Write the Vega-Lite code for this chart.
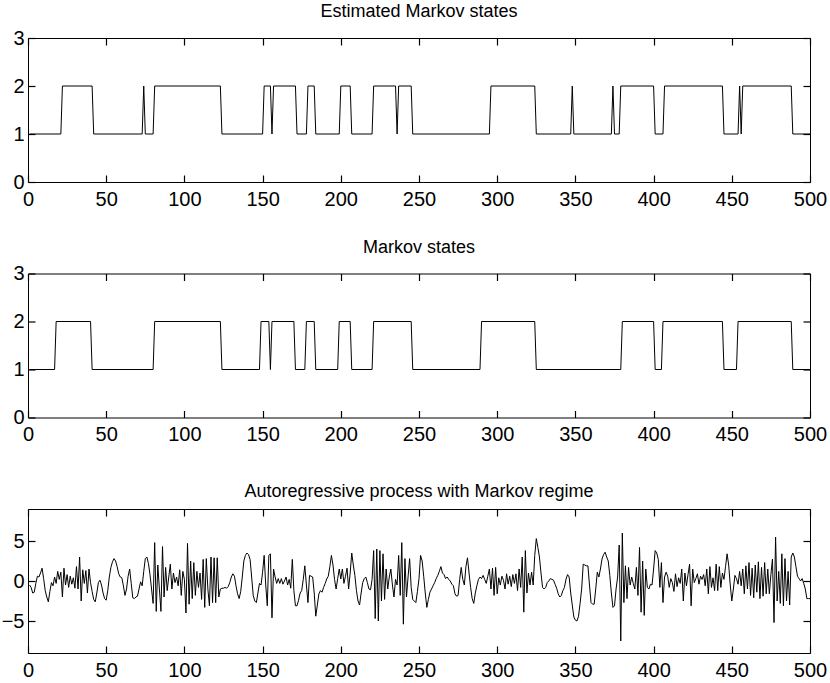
{
"$schema": "https://vega.github.io/schema/vega-lite/v6.json",
"padding": {"left": 0, "top": 2, "right": 1, "bottom": 2},
"background": "white",
"spacing": 91.5,
"bounds": "flush",
"config": {
  "view": {"stroke": "black", "strokeWidth": 1},
  "axis": {"domain": false, "offset": -7, "ticks": true, "tickColor": "black", "tickWidth": 1, "tickSize": 7, "labelColor": "black", "labelFont": "Liberation Sans", "labelFontSize": 20, "grid": false, "labelFlush": false, "labelOverlap": false},
  "axisX": {"labelPadding": 7, "ticks": true, "tickColor": "black", "tickWidth": 1.2, "tickSize": 7},
  "axisY": {"labelPadding": 4, "ticks": true, "tickColor": "black", "tickWidth": 1.2, "tickSize": 7},
  "title": {"font": "Liberation Sans", "fontSize": 18, "fontWeight": "normal", "color": "black", "offset": 7},
  "line": {"color": "black", "strokeWidth": 1}
},
"datasets": {
"est": [{"t":1,"s":1},{"t":21,"s":1},{"t":22,"s":2},{"t":41,"s":2},{"t":42,"s":1},{"t":73,"s":1},{"t":74,"s":2},{"t":75,"s":1},{"t":80,"s":1},{"t":81,"s":2},{"t":123,"s":2},{"t":124,"s":1},{"t":150,"s":1},{"t":151,"s":2},{"t":155,"s":2},{"t":156,"s":1},{"t":157,"s":2},{"t":171,"s":2},{"t":172,"s":1},{"t":178,"s":1},{"t":179,"s":2},{"t":183,"s":2},{"t":184,"s":1},{"t":199,"s":1},{"t":200,"s":2},{"t":206,"s":2},{"t":207,"s":1},{"t":220,"s":1},{"t":221,"s":2},{"t":235,"s":2},{"t":236,"s":1},{"t":237,"s":2},{"t":245,"s":2},{"t":246,"s":1},{"t":295,"s":1},{"t":296,"s":2},{"t":324,"s":2},{"t":325,"s":1},{"t":347,"s":1},{"t":348,"s":2},{"t":349,"s":1},{"t":373,"s":1},{"t":374,"s":2},{"t":375,"s":1},{"t":378,"s":1},{"t":379,"s":2},{"t":400,"s":2},{"t":401,"s":1},{"t":406,"s":1},{"t":407,"s":2},{"t":444,"s":2},{"t":445,"s":1},{"t":454,"s":1},{"t":455,"s":2},{"t":456,"s":1},{"t":457,"s":2},{"t":488,"s":2},{"t":489,"s":1},{"t":500,"s":1}],
"tru": [{"t":1,"s":1},{"t":17,"s":1},{"t":18,"s":2},{"t":40,"s":2},{"t":41,"s":1},{"t":80,"s":1},{"t":81,"s":2},{"t":123,"s":2},{"t":124,"s":1},{"t":148,"s":1},{"t":149,"s":2},{"t":154,"s":2},{"t":155,"s":1},{"t":156,"s":2},{"t":170,"s":2},{"t":171,"s":1},{"t":177,"s":1},{"t":178,"s":2},{"t":183,"s":2},{"t":184,"s":1},{"t":198,"s":1},{"t":199,"s":2},{"t":206,"s":2},{"t":207,"s":1},{"t":220,"s":1},{"t":221,"s":2},{"t":245,"s":2},{"t":246,"s":1},{"t":289,"s":1},{"t":290,"s":2},{"t":324,"s":2},{"t":325,"s":1},{"t":379,"s":1},{"t":380,"s":2},{"t":400,"s":2},{"t":401,"s":1},{"t":405,"s":1},{"t":406,"s":2},{"t":444,"s":2},{"t":445,"s":1},{"t":453,"s":1},{"t":454,"s":2},{"t":488,"s":2},{"t":489,"s":1},{"t":500,"s":1}],
"ar": [
{"t":1,"v":-0.5},{"t":2,"v":-0.8},{"t":3,"v":-1.5},{"t":4,"v":-1.4},{"t":5,"v":-0.3},{"t":6,"v":0.6},{"t":7,"v":0.5},{"t":8,"v":1.0},{"t":9,"v":1.6},{"t":10,"v":0.3},
{"t":11,"v":-1.2},{"t":12,"v":-2.0},{"t":13,"v":-2.6},{"t":14,"v":-1.3},{"t":15,"v":-0.2},{"t":16,"v":-0.6},{"t":17,"v":0.5},{"t":18,"v":-0.3},{"t":19,"v":1.2},{"t":20,"v":0.2},
{"t":21,"v":1.1},{"t":22,"v":-2.0},{"t":23,"v":1.6},{"t":24,"v":-0.5},{"t":25,"v":0.8},{"t":26,"v":-0.8},{"t":27,"v":0.6},{"t":28,"v":-0.4},{"t":29,"v":0.4},{"t":30,"v":-0.9},
{"t":31,"v":1.8},{"t":32,"v":-1.0},{"t":33,"v":3.0},{"t":34,"v":-2.5},{"t":35,"v":1.4},{"t":36,"v":-0.3},{"t":37,"v":1.3},{"t":38,"v":-1.5},{"t":39,"v":1.5},{"t":40,"v":-0.2},
{"t":41,"v":-1.3},{"t":42,"v":-2.3},{"t":43,"v":-2.6},{"t":44,"v":-1.5},{"t":45,"v":-0.2},{"t":46,"v":0.1},{"t":47,"v":-0.5},{"t":48,"v":-1.5},{"t":49,"v":-2.2},{"t":50,"v":-2.4},
{"t":51,"v":-1.2},{"t":52,"v":0.5},{"t":53,"v":1.7},{"t":54,"v":2.4},{"t":55,"v":2.8},{"t":56,"v":2.5},{"t":57,"v":1.8},{"t":58,"v":0.9},{"t":59,"v":0.5},{"t":60,"v":0.4},
{"t":61,"v":-0.6},{"t":62,"v":-1.8},{"t":63,"v":-1.0},{"t":64,"v":0.6},{"t":65,"v":1.5},{"t":66,"v":-0.3},{"t":67,"v":-2.1},{"t":68,"v":-2.2},{"t":69,"v":-2.0},{"t":70,"v":-1.9},
{"t":71,"v":-1.0},{"t":72,"v":-0.1},{"t":73,"v":-0.6},{"t":74,"v":1.2},{"t":75,"v":2.8},{"t":76,"v":3.0},{"t":77,"v":2.2},{"t":78,"v":0.8},{"t":79,"v":-1.0},{"t":80,"v":-2.8},
{"t":81,"v":4.8},{"t":82,"v":-3.8},{"t":83,"v":2.0},{"t":84,"v":-1.0},{"t":85,"v":-3.8},{"t":86,"v":4.3},{"t":87,"v":-2.0},{"t":88,"v":1.7},{"t":89,"v":-1.2},{"t":90,"v":0.5},
{"t":91,"v":2.1},{"t":92,"v":-1.0},{"t":93,"v":1.0},{"t":94,"v":-0.2},{"t":95,"v":0.5},{"t":96,"v":-0.6},{"t":97,"v":1.4},{"t":98,"v":-1.8},{"t":99,"v":1.2},{"t":100,"v":0.2},
{"t":101,"v":-4.0},{"t":102,"v":4.7},{"t":103,"v":-2.9},{"t":104,"v":2.5},{"t":105,"v":-2.2},{"t":106,"v":2.3},{"t":107,"v":-1.8},{"t":108,"v":1.2},{"t":109,"v":-0.8},{"t":110,"v":1.0},
{"t":111,"v":-2.3},{"t":112,"v":2.7},{"t":113,"v":-3.3},{"t":114,"v":2.8},{"t":115,"v":-1.0},{"t":116,"v":-3.1},{"t":117,"v":3.0},{"t":118,"v":-2.7},{"t":119,"v":2.9},{"t":120,"v":-2.7},
{"t":121,"v":2.9},{"t":122,"v":-2.0},{"t":123,"v":-1.0},{"t":124,"v":-0.9},{"t":125,"v":-0.9},{"t":126,"v":-0.8},{"t":127,"v":-0.9},{"t":128,"v":-0.7},{"t":129,"v":-0.2},{"t":130,"v":0.5},
{"t":131,"v":0.9},{"t":132,"v":0.6},{"t":133,"v":-0.6},{"t":134,"v":-1.6},{"t":135,"v":-2.2},{"t":136,"v":-1.3},{"t":137,"v":0.5},{"t":138,"v":2.5},{"t":139,"v":3.2},{"t":140,"v":3.5},
{"t":141,"v":3.3},{"t":142,"v":2.7},{"t":143,"v":0.5},{"t":144,"v":-1.8},{"t":145,"v":-2.5},{"t":146,"v":-2.7},{"t":147,"v":-1.5},{"t":148,"v":-0.3},{"t":149,"v":-0.5},{"t":150,"v":1.1},
{"t":151,"v":3.2},{"t":152,"v":-0.5},{"t":153,"v":-3.1},{"t":154,"v":3.2},{"t":155,"v":3.4},{"t":156,"v":-4.6},{"t":157,"v":1.5},{"t":158,"v":0.5},{"t":159,"v":-0.3},{"t":160,"v":0.3},
{"t":161,"v":-0.3},{"t":162,"v":0.3},{"t":163,"v":-0.4},{"t":164,"v":0.0},{"t":165,"v":0.5},{"t":166,"v":-0.5},{"t":167,"v":0.2},{"t":168,"v":-0.9},{"t":169,"v":2.7},{"t":170,"v":-1.2},
{"t":171,"v":-3.1},{"t":172,"v":-3.1},{"t":173,"v":-2.4},{"t":174,"v":-1.5},{"t":175,"v":-1.2},{"t":176,"v":0.2},{"t":177,"v":1.9},{"t":178,"v":-0.5},{"t":179,"v":-2.7},{"t":180,"v":0.7},
{"t":181,"v":0.6},{"t":182,"v":0.5},{"t":183,"v":-1.5},{"t":184,"v":-4.4},{"t":185,"v":-3.0},{"t":186,"v":-1.6},{"t":187,"v":-1.2},{"t":188,"v":-1.4},{"t":189,"v":-0.8},{"t":190,"v":-0.3},
{"t":191,"v":0.25},{"t":192,"v":0.6},{"t":193,"v":1.8},{"t":194,"v":3.2},{"t":195,"v":2.0},{"t":196,"v":0.2},{"t":197,"v":-1.0},{"t":198,"v":0.3},{"t":199,"v":1.5},{"t":200,"v":0.25},
{"t":201,"v":1.5},{"t":202,"v":-0.3},{"t":203,"v":0.6},{"t":204,"v":1.6},{"t":205,"v":-1.0},{"t":206,"v":1.0},{"t":207,"v":3.5},{"t":208,"v":2.0},{"t":209,"v":0.7},{"t":210,"v":-1.2},
{"t":211,"v":-2.5},{"t":212,"v":-3.0},{"t":213,"v":-1.5},{"t":214,"v":-0.2},{"t":215,"v":0.3},{"t":216,"v":0.5},{"t":217,"v":-0.2},{"t":218,"v":-1.0},{"t":219,"v":-1.1},{"t":220,"v":0.2},
{"t":221,"v":3.8},{"t":222,"v":-4.7},{"t":223,"v":4.0},{"t":224,"v":-5.0},{"t":225,"v":3.8},{"t":226,"v":-2.5},{"t":227,"v":3.4},{"t":228,"v":-2.3},{"t":229,"v":1.5},{"t":230,"v":-1.0},
{"t":231,"v":0.5},{"t":232,"v":1.5},{"t":233,"v":-0.5},{"t":234,"v":-2.0},{"t":235,"v":0.2},{"t":236,"v":-0.5},{"t":237,"v":3.2},{"t":238,"v":-1.8},{"t":239,"v":4.8},{"t":240,"v":-5.4},
{"t":241,"v":2.8},{"t":242,"v":-2.0},{"t":243,"v":0.5},{"t":244,"v":2.8},{"t":245,"v":-0.8},{"t":246,"v":-2.3},{"t":247,"v":-2.5},{"t":248,"v":-2.7},{"t":249,"v":-1.3},{"t":250,"v":0.3},
{"t":251,"v":3.2},{"t":252,"v":2.5},{"t":253,"v":0.6},{"t":254,"v":-1.5},{"t":255,"v":-3.3},{"t":256,"v":-2.3},{"t":257,"v":-1.4},{"t":258,"v":-1.0},{"t":259,"v":-0.6},{"t":260,"v":-0.2},
{"t":261,"v":0.3},{"t":262,"v":0.7},{"t":263,"v":1.2},{"t":264,"v":1.8},{"t":265,"v":1.0},{"t":266,"v":0.8},{"t":267,"v":0.3},{"t":268,"v":0.5},{"t":269,"v":0.2},{"t":270,"v":0.0},
{"t":271,"v":-0.4},{"t":272,"v":-0.6},{"t":273,"v":-1.6},{"t":274,"v":-1.9},{"t":275,"v":-1.8},{"t":276,"v":0.2},{"t":277,"v":1.7},{"t":278,"v":0.2},{"t":279,"v":-0.5},{"t":280,"v":1.8},
{"t":281,"v":2.9},{"t":282,"v":1.0},{"t":283,"v":-0.8},{"t":284,"v":-2.2},{"t":285,"v":-2.8},{"t":286,"v":-1.5},{"t":287,"v":-0.6},{"t":288,"v":0.2},{"t":289,"v":0.5},{"t":290,"v":0.3},
{"t":291,"v":0.7},{"t":292,"v":0.2},{"t":293,"v":-0.3},{"t":294,"v":0.6},{"t":295,"v":1.5},{"t":296,"v":-1.0},{"t":297,"v":1.6},{"t":298,"v":-1.8},{"t":299,"v":1.7},{"t":300,"v":-1.6},
{"t":301,"v":0.4},{"t":302,"v":-0.5},{"t":303,"v":0.6},{"t":304,"v":0.1},{"t":305,"v":-1.0},{"t":306,"v":0.9},{"t":307,"v":-0.4},{"t":308,"v":0.6},{"t":309,"v":-0.7},{"t":310,"v":0.8},
{"t":311,"v":-0.3},{"t":312,"v":0.9},{"t":313,"v":-1.2},{"t":314,"v":1.5},{"t":315,"v":-0.8},{"t":316,"v":3.0},{"t":317,"v":-3.9},{"t":318,"v":3.8},{"t":319,"v":-1.5},{"t":320,"v":1.0},
{"t":321,"v":-0.5},{"t":322,"v":1.1},{"t":323,"v":-0.5},{"t":324,"v":3.2},{"t":325,"v":5.3},{"t":326,"v":4.2},{"t":327,"v":3.0},{"t":328,"v":1.0},{"t":329,"v":-0.8},{"t":330,"v":-1.0},
{"t":331,"v":-0.8},{"t":332,"v":-0.2},{"t":333,"v":0.0},{"t":334,"v":0.3},{"t":335,"v":0.2},{"t":336,"v":0.1},{"t":337,"v":-0.4},{"t":338,"v":-0.9},{"t":339,"v":-1.6},{"t":340,"v":-2.0},
{"t":341,"v":-1.8},{"t":342,"v":-1.2},{"t":343,"v":-0.8},{"t":344,"v":0.25},{"t":345,"v":0.8},{"t":346,"v":0.5},{"t":347,"v":-1.5},{"t":348,"v":-3.0},{"t":349,"v":-4.5},{"t":350,"v":-4.9},
{"t":351,"v":-5.0},{"t":352,"v":-4.4},{"t":353,"v":-2.8},{"t":354,"v":-1.0},{"t":355,"v":2.1},{"t":356,"v":2.0},{"t":357,"v":1.9},{"t":358,"v":1.9},{"t":359,"v":-0.5},{"t":360,"v":-2.7},
{"t":361,"v":-2.9},{"t":362,"v":-2.9},{"t":363,"v":-1.0},{"t":364,"v":1.1},{"t":365,"v":0.5},{"t":366,"v":1.5},{"t":367,"v":2.75},{"t":368,"v":3.3},{"t":369,"v":3.6},{"t":370,"v":3.0},
{"t":371,"v":2.5},{"t":372,"v":0.7},{"t":373,"v":-1.5},{"t":374,"v":-3.3},{"t":375,"v":-3.1},{"t":376,"v":-1.0},{"t":377,"v":0.5},{"t":378,"v":4.5},{"t":379,"v":-7.5},{"t":380,"v":6.0},
{"t":381,"v":-2.7},{"t":382,"v":1.9},{"t":383,"v":-2.2},{"t":384,"v":1.7},{"t":385,"v":-0.5},{"t":386,"v":0.5},{"t":387,"v":-0.3},{"t":388,"v":-1.0},{"t":389,"v":1.7},{"t":390,"v":-1.8},
{"t":391,"v":4.2},{"t":392,"v":-3.9},{"t":393,"v":2.5},{"t":394,"v":-4.3},{"t":395,"v":1.5},{"t":396,"v":-0.8},{"t":397,"v":-1.0},{"t":398,"v":-0.4},{"t":399,"v":-0.5},{"t":400,"v":1.5},
{"t":401,"v":3.8},{"t":402,"v":3.5},{"t":403,"v":2.7},{"t":404,"v":-0.8},{"t":405,"v":2.3},{"t":406,"v":-2.7},{"t":407,"v":0.5},{"t":408,"v":1.1},{"t":409,"v":0.6},{"t":410,"v":-0.8},
{"t":411,"v":0.3},{"t":412,"v":-0.2},{"t":413,"v":-1.3},{"t":414,"v":0.9},{"t":415,"v":-0.7},{"t":416,"v":0.4},{"t":417,"v":-0.3},{"t":418,"v":1.5},{"t":419,"v":-2.5},{"t":420,"v":1.0},
{"t":421,"v":-0.6},{"t":422,"v":0.8},{"t":423,"v":2.1},{"t":424,"v":-3.1},{"t":425,"v":1.5},{"t":426,"v":-0.2},{"t":427,"v":0.3},{"t":428,"v":0.9},{"t":429,"v":-0.4},{"t":430,"v":0.6},
{"t":431,"v":0.2},{"t":432,"v":0.8},{"t":433,"v":-0.6},{"t":434,"v":1.5},{"t":435,"v":-1.6},{"t":436,"v":1.8},{"t":437,"v":-0.8},{"t":438,"v":0.4},{"t":439,"v":-1.2},{"t":440,"v":2.1},
{"t":441,"v":-1.2},{"t":442,"v":1.8},{"t":443,"v":-0.8},{"t":444,"v":1.0},{"t":445,"v":0.2},{"t":446,"v":1.8},{"t":447,"v":3.4},{"t":448,"v":2.0},{"t":449,"v":-0.5},{"t":450,"v":-2.5},
{"t":451,"v":-1.0},{"t":452,"v":0.7},{"t":453,"v":0.3},{"t":454,"v":-0.4},{"t":455,"v":1.2},{"t":456,"v":-0.6},{"t":457,"v":1.5},{"t":458,"v":-1.6},{"t":459,"v":1.9},{"t":460,"v":-1.0},
{"t":461,"v":2.3},{"t":462,"v":-1.8},{"t":463,"v":1.6},{"t":464,"v":-2.1},{"t":465,"v":2.0},{"t":466,"v":-1.4},{"t":467,"v":2.4},{"t":468,"v":-2.2},{"t":469,"v":1.7},{"t":470,"v":-1.9},
{"t":471,"v":2.3},{"t":472,"v":-1.6},{"t":473,"v":1.5},{"t":474,"v":-1.6},{"t":475,"v":0.8},{"t":476,"v":2.75},{"t":477,"v":-5.2},{"t":478,"v":5.5},{"t":479,"v":-2.5},{"t":480,"v":1.2},
{"t":481,"v":-2.8},{"t":482,"v":3.4},{"t":483,"v":-3.1},{"t":484,"v":2.8},{"t":485,"v":-2.5},{"t":486,"v":1.2},{"t":487,"v":-3.0},{"t":488,"v":3.0},{"t":489,"v":3.5},{"t":490,"v":3.0},
{"t":491,"v":1.8},{"t":492,"v":0.6},{"t":493,"v":0.3},{"t":494,"v":0.0},{"t":495,"v":0.3},{"t":496,"v":-0.3},{"t":497,"v":-1.0},{"t":498,"v":-2.2},{"t":499,"v":-2.2},{"t":500,"v":-2.2}
]
},
"vconcat": [
{
  "width": 782, "height": 144,
  "title": "Estimated Markov states",
  "data": {"name": "est"},
  "layer": [
    {"mark": {"type": "line"},
     "encoding": {
       "x": {"field": "t", "type": "quantitative", "title": null, "scale": {"domain": [0, 500], "nice": false, "zero": false}, "axis": {"orient": "bottom", "values": [0,50,100,150,200,250,300,350,400,450,500], "ticks": true}},
       "y": {"field": "s", "type": "quantitative", "title": null, "scale": {"domain": [0, 3], "nice": false}, "axis": {"orient": "left", "values": [0,1,2,3], "ticks": true}}
     }},
    {"mark": {"type": "line", "opacity": 0},
     "encoding": {
       "x": {"field": "t", "type": "quantitative", "title": null, "axis": {"orient": "top", "labels": false, "values": [0,50,100,150,200,250,300,350,400,450,500], "ticks": true}},
       "y": {"field": "s", "type": "quantitative", "title": null, "axis": {"orient": "right", "labels": false, "values": [0,1,2,3], "ticks": true}}
     }}
  ],
  "resolve": {"axis": {"x": "independent", "y": "independent"}}
},
{
  "width": 782, "height": 144,
  "title": "Markov states",
  "data": {"name": "tru"},
  "layer": [
    {"mark": {"type": "line"},
     "encoding": {
       "x": {"field": "t", "type": "quantitative", "title": null, "scale": {"domain": [0, 500], "nice": false, "zero": false}, "axis": {"orient": "bottom", "values": [0,50,100,150,200,250,300,350,400,450,500], "ticks": true}},
       "y": {"field": "s", "type": "quantitative", "title": null, "scale": {"domain": [0, 3], "nice": false}, "axis": {"orient": "left", "values": [0,1,2,3], "ticks": true}}
     }},
    {"mark": {"type": "line", "opacity": 0},
     "encoding": {
       "x": {"field": "t", "type": "quantitative", "title": null, "axis": {"orient": "top", "labels": false, "values": [0,50,100,150,200,250,300,350,400,450,500], "ticks": true}},
       "y": {"field": "s", "type": "quantitative", "title": null, "axis": {"orient": "right", "labels": false, "values": [0,1,2,3], "ticks": true}}
     }}
  ],
  "resolve": {"axis": {"x": "independent", "y": "independent"}}
},
{
  "width": 782, "height": 144,
  "title": "Autoregressive process with Markov regime",
  "data": {"name": "ar"},
  "layer": [
    {"mark": {"type": "line"},
     "encoding": {
       "x": {"field": "t", "type": "quantitative", "title": null, "scale": {"domain": [0, 500], "nice": false, "zero": false}, "axis": {"orient": "bottom", "values": [0,50,100,150,200,250,300,350,400,450,500], "ticks": true}},
       "y": {"field": "v", "type": "quantitative", "title": null, "scale": {"domain": [-9, 9], "nice": false}, "axis": {"orient": "left", "values": [-5,0,5], "ticks": true}}
     }},
    {"mark": {"type": "line", "opacity": 0},
     "encoding": {
       "x": {"field": "t", "type": "quantitative", "title": null, "axis": {"orient": "top", "labels": false, "values": [0,50,100,150,200,250,300,350,400,450,500], "ticks": true}},
       "y": {"field": "v", "type": "quantitative", "title": null, "axis": {"orient": "right", "labels": false, "values": [-5,0,5], "ticks": true}}
     }}
  ],
  "resolve": {"axis": {"x": "independent", "y": "independent"}}
}
]
}
